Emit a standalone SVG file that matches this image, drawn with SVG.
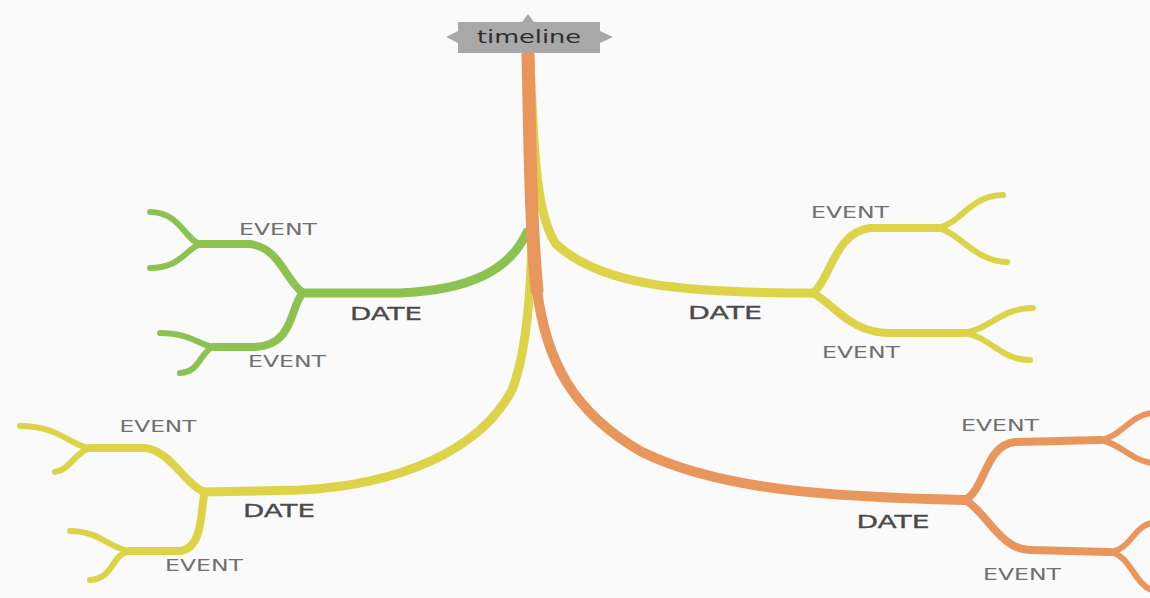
<svg xmlns="http://www.w3.org/2000/svg" width="1150" height="598" viewBox="0 0 1150 598">
<style>
.b{fill:none;stroke-linecap:round;stroke-linejoin:round}
.g{stroke:#8cc350}
.y{stroke:#dcd348}
.o{stroke:#e8965c}
.w1{stroke-width:9}
.w2{stroke-width:8}
.w3{stroke-width:6}
.ev{font-family:"DejaVu Sans",sans-serif;font-size:15px;fill:#707070;text-anchor:middle}
.dt{font-family:"DejaVu Sans",sans-serif;font-size:17px;fill:#4a4a4a;text-anchor:middle;stroke:#4a4a4a;stroke-width:0.3}
</style>
<rect width="1150" height="598" fill="#fafafa"/>
<g id="connectors">
  <!-- yellow upper-right -->
  <path class="b y w1" d="M530,62 C534,150 536,215 556,244 C600,285 680,293 813,293"/>
  <path class="b y w2" d="M813,293 C830,280 835,232 870,228 L937,228"/>
  <path class="b y w3" d="M937,228 C960,225 970,195 1003,195"/>
  <path class="b y w3" d="M937,228 C960,232 975,262 1007,262"/>
  <path class="b y w2" d="M813,293 C835,305 850,333 890,333 L963,333"/>
  <path class="b y w3" d="M963,333 C990,330 1000,308 1033,308"/>
  <path class="b y w3" d="M963,333 C990,336 1000,360 1030,360"/>
  <!-- yellow lower-left -->
  <path class="b y w1" d="M530,62 C534,200 536,330 512,390 C480,450 400,485 300,490 L205,492"/>
  <path class="b y w2" d="M205,492 C185,485 170,450 145,448 L90,448"/>
  <path class="b y w3" d="M90,448 C70,446 60,426 20,426"/>
  <path class="b y w3" d="M90,448 C75,452 70,470 55,472"/>
  <path class="b y w2" d="M205,492 C200,505 205,548 180,551 L130,551"/>
  <path class="b y w3" d="M130,551 C110,549 100,531 70,531"/>
  <path class="b y w3" d="M130,551 C110,555 115,578 90,580"/>
  <!-- green -->
  <path class="b g w1" d="M527,232 C510,270 470,290 400,293 L303,293"/>
  <path class="b g w2" d="M303,293 C285,280 280,248 250,244 L200,244"/>
  <path class="b g w3" d="M200,244 C185,240 180,212 150,212"/>
  <path class="b g w3" d="M200,244 C185,250 180,268 150,268"/>
  <path class="b g w2" d="M303,293 C290,305 295,345 255,347 L213,347"/>
  <path class="b g w3" d="M213,347 C200,345 190,333 160,333"/>
  <path class="b g w3" d="M213,347 C200,352 200,372 180,373"/>
  <!-- orange trunk -->
  <path class="b o" stroke-width="13" d="M528,55 C530,150 531,230 537,290"/>
  <path class="b o" stroke-width="10" d="M537,290 C546,360 572,412 642,452 C720,490 830,497 965,500"/>
  <path class="b o w2" d="M965,500 C985,490 985,445 1015,442 L1100,440"/>
  <path class="b o w3" d="M1100,440 C1120,438 1130,415 1152,413"/>
  <path class="b o w3" d="M1100,440 C1120,443 1130,460 1152,463"/>
  <path class="b o w2" d="M965,500 C985,510 1000,550 1030,550 L1110,552"/>
  <path class="b o w3" d="M1110,552 C1130,550 1135,525 1152,523"/>
  <path class="b o w3" d="M1110,552 C1130,555 1135,585 1152,590"/>
</g>
<g id="root">
  <polygon points="458,22 522,22 528,14 534,22 600,22 600,31 613,37 600,43 600,53 458,53 458,43 446,37 458,31" fill="#a8a8a8"/>
  <text x="529" y="43" font-family="DejaVu Sans,sans-serif" font-size="17" fill="#2e2e2e" text-anchor="middle" textLength="104" lengthAdjust="spacingAndGlyphs">timeline</text>
</g>
<g id="date-green"><text class="dt" x="386" y="320" textLength="72" lengthAdjust="spacingAndGlyphs">DATE</text></g>
<g id="event-green-1"><text class="ev" x="278" y="235" textLength="78" lengthAdjust="spacingAndGlyphs">EVENT</text></g>
<g id="event-green-2"><text class="ev" x="287" y="367" textLength="78" lengthAdjust="spacingAndGlyphs">EVENT</text></g>
<g id="date-yellow-right"><text class="dt" x="725" y="319" textLength="74" lengthAdjust="spacingAndGlyphs">DATE</text></g>
<g id="event-yellow-right-1"><text class="ev" x="850" y="218" textLength="78" lengthAdjust="spacingAndGlyphs">EVENT</text></g>
<g id="event-yellow-right-2"><text class="ev" x="861" y="358" textLength="78" lengthAdjust="spacingAndGlyphs">EVENT</text></g>
<g id="date-yellow-left"><text class="dt" x="279" y="517" textLength="72" lengthAdjust="spacingAndGlyphs">DATE</text></g>
<g id="event-yellow-left-1"><text class="ev" x="158" y="432" textLength="77" lengthAdjust="spacingAndGlyphs">EVENT</text></g>
<g id="event-yellow-left-2"><text class="ev" x="204" y="571" textLength="78" lengthAdjust="spacingAndGlyphs">EVENT</text></g>
<g id="date-orange"><text class="dt" x="893" y="528" textLength="73" lengthAdjust="spacingAndGlyphs">DATE</text></g>
<g id="event-orange-1"><text class="ev" x="1000" y="431" textLength="78" lengthAdjust="spacingAndGlyphs">EVENT</text></g>
<g id="event-orange-2"><text class="ev" x="1022" y="580" textLength="78" lengthAdjust="spacingAndGlyphs">EVENT</text></g>
</svg>
